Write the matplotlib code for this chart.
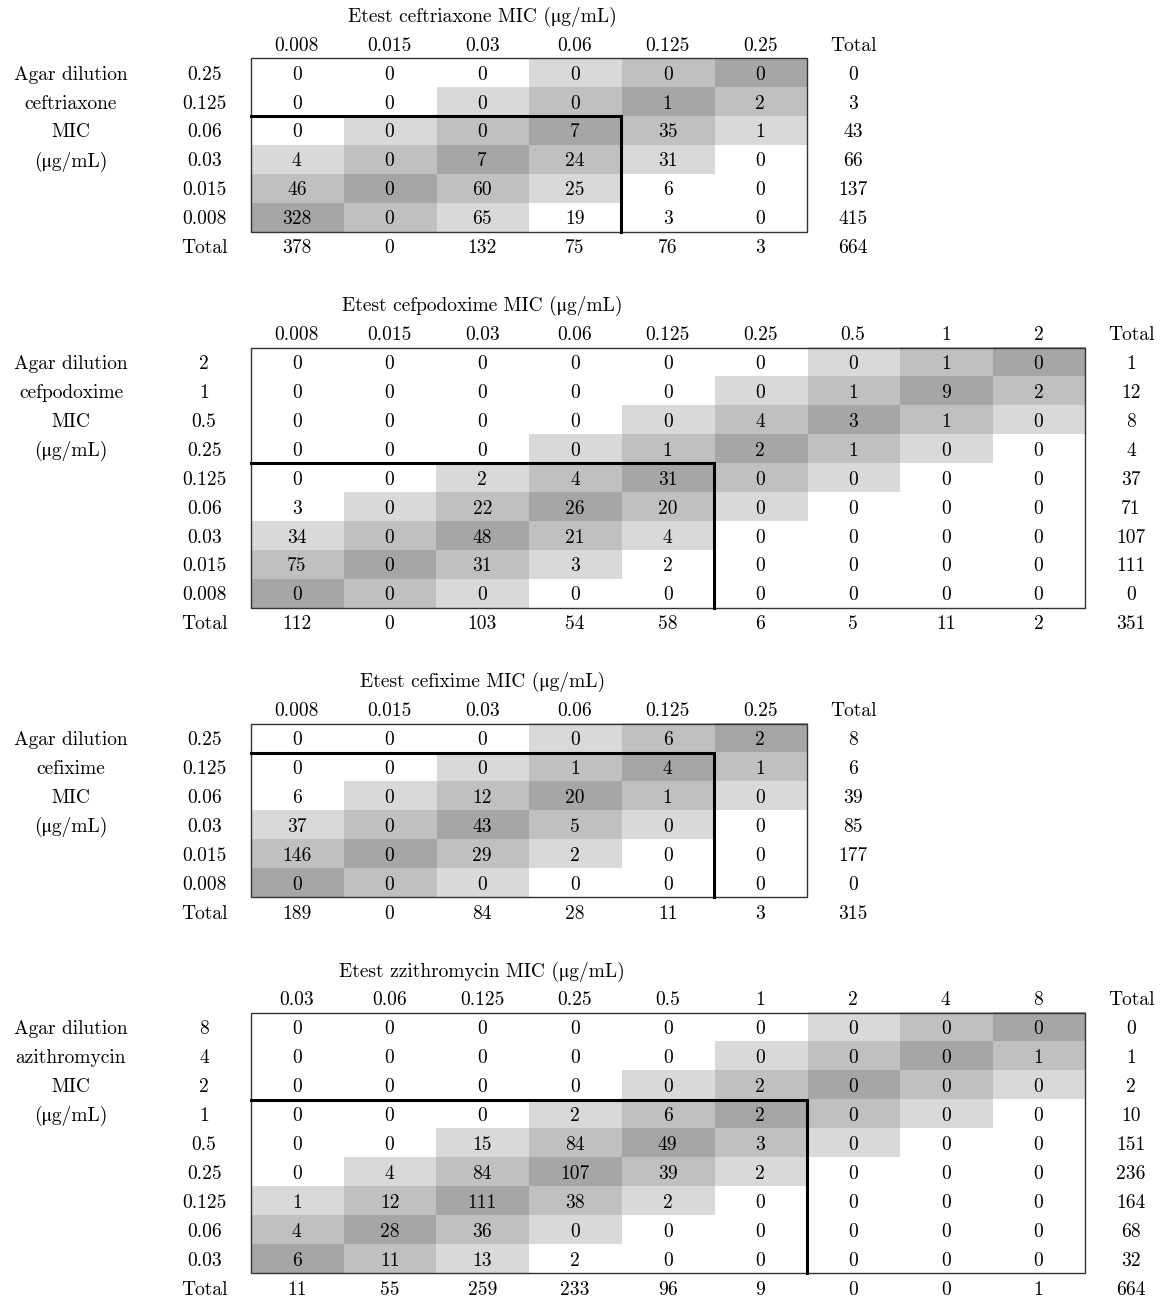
import numpy as np
import matplotlib
matplotlib.use("Agg")
import matplotlib.pyplot as plt
from matplotlib.patches import Rectangle

plt.rcParams['font.family'] = ['cmr10', 'STIXGeneral', 'DejaVu Serif']
plt.rcParams['axes.formatter.use_mathtext'] = True

# ceftriaxone
ctx_cols = ['0.008', '0.015', '0.03', '0.06', '0.125', '0.25']
ctx_rows = ['0.25', '0.125', '0.06', '0.03', '0.015', '0.008']
ctx_counts = [[0, 0, 0, 0, 0, 0],
              [0, 0, 0, 0, 1, 2],
              [0, 0, 0, 7, 35, 1],
              [4, 0, 7, 24, 31, 0],
              [46, 0, 60, 25, 6, 0],
              [328, 0, 65, 19, 3, 0]]

# cefpodoxime
cpd_cols = ['0.008', '0.015', '0.03', '0.06', '0.125', '0.25', '0.5', '1', '2']
cpd_rows = ['2', '1', '0.5', '0.25', '0.125', '0.06', '0.03', '0.015', '0.008']
cpd_counts = [[0, 0, 0, 0, 0, 0, 0, 1, 0],
              [0, 0, 0, 0, 0, 0, 1, 9, 2],
              [0, 0, 0, 0, 0, 4, 3, 1, 0],
              [0, 0, 0, 0, 1, 2, 1, 0, 0],
              [0, 0, 2, 4, 31, 0, 0, 0, 0],
              [3, 0, 22, 26, 20, 0, 0, 0, 0],
              [34, 0, 48, 21, 4, 0, 0, 0, 0],
              [75, 0, 31, 3, 2, 0, 0, 0, 0],
              [0, 0, 0, 0, 0, 0, 0, 0, 0]]

# cefixime
cfx_cols = ['0.008', '0.015', '0.03', '0.06', '0.125', '0.25']
cfx_rows = ['0.25', '0.125', '0.06', '0.03', '0.015', '0.008']
cfx_counts = [[0, 0, 0, 0, 6, 2],
              [0, 0, 0, 1, 4, 1],
              [6, 0, 12, 20, 1, 0],
              [37, 0, 43, 5, 0, 0],
              [146, 0, 29, 2, 0, 0],
              [0, 0, 0, 0, 0, 0]]

# azithromycin
azm_cols = ['0.03', '0.06', '0.125', '0.25', '0.5', '1', '2', '4', '8']
azm_rows = ['8', '4', '2', '1', '0.5', '0.25', '0.125', '0.06', '0.03']
azm_counts = [[0, 0, 0, 0, 0, 0, 0, 0, 0],
              [0, 0, 0, 0, 0, 0, 0, 0, 1],
              [0, 0, 0, 0, 0, 2, 0, 0, 0],
              [0, 0, 0, 2, 6, 2, 0, 0, 0],
              [0, 0, 15, 84, 49, 3, 0, 0, 0],
              [0, 4, 84, 107, 39, 2, 0, 0, 0],
              [1, 12, 111, 38, 2, 0, 0, 0, 0],
              [4, 28, 36, 0, 0, 0, 0, 0, 0],
              [6, 11, 13, 2, 0, 0, 0, 0, 0]]

etest_names = ['ceftriaxone', 'cefpodoxime', 'cefixime', 'zzithromycin']
agar_names = ['ceftriaxone', 'cefpodoxime', 'cefixime', 'azithromycin']
breakpoints = [0.06, 0.125, 0.125, 1.0]
all_cols = [ctx_cols, cpd_cols, cfx_cols, azm_cols]
all_rows = [ctx_rows, cpd_rows, cfx_rows, azm_rows]
all_counts = [ctx_counts, cpd_counts, cfx_counts, azm_counts]

UNIT = '(\u03bcg/mL)'  # greek mu, falls back to STIX (cmr10 has no such glyph)

# layout (pixels)
W, H = 1166, 1299
ROW_H = 28.93
Y0 = 15
COL_W = 92.7
X0 = 250.5
LEFT_X = 71
FS = 14
DY = 1.8  # nudge text down a bit, to sit like the LaTeX cells
shade = {0: 0.65, 1: 0.75, 2: 0.85}

fig = plt.figure(figsize=(W / 100, H / 100), dpi=100)
ax = fig.add_axes([0, 0, 1, 1])

def yc(line):
    return Y0 + line * ROW_H

def put(x, y, s, **kw):
    ax.text(x, y + DY, s, ha='center', va='center', fontsize=FS, zorder=3, **kw)

line = 0
for t in range(4):
    cols, rows = all_cols[t], all_rows[t]
    counts = np.array(all_counts[t])
    nr, nc = counts.shape
    bp = breakpoints[t]

    # title and header
    put(X0 + 2.5 * COL_W, yc(line), f'Etest {etest_names[t]} MIC {UNIT}')
    for j, c in enumerate(cols + ['Total']):
        put(X0 + (j + 0.5) * COL_W, yc(line + 1), c)

    top = yc(line + 2) - ROW_H / 2
    bottom = top + nr * ROW_H
    right = X0 + nc * COL_W

    # shading by distance from the diagonal
    grid = np.ones((nr, nc))
    for i, r in enumerate(rows):
        k = cols.index(r)
        for j in range(nc):
            grid[i, j] = shade.get(abs(k - j), 1.0)
    ax.imshow(grid, cmap='gray', vmin=0, vmax=1, interpolation='nearest',
              extent=(X0, right, bottom, top), aspect='auto', zorder=1)

    # cells, row labels and totals
    left_lines = ['Agar dilution', agar_names[t], 'MIC', UNIT]
    for i, r in enumerate(rows):
        y = yc(line + 2 + i)
        put(X0 - COL_W / 2, y, r)
        if i < len(left_lines):
            put(LEFT_X, y, left_lines[i])
        for j in range(nc):
            put(X0 + (j + 0.5) * COL_W, y, str(counts[i, j]))
        put(X0 + (nc + 0.5) * COL_W, y, str(counts[i].sum()))
    ytot = yc(line + 2 + nr)
    put(X0 - COL_W / 2, ytot, 'Total')
    col_tot = list(counts.sum(axis=0)) + [counts.sum()]
    for j, v in enumerate(col_tot):
        put(X0 + (j + 0.5) * COL_W, ytot, str(v))

    # outer frame
    ax.add_patch(Rectangle((X0, top), right - X0, bottom - top, fill=False,
                           edgecolor='#333333', lw=1.0, zorder=2))
    # susceptible region box
    n_in_r = sum(float(r) <= bp for r in rows)
    n_in_c = sum(float(c) <= bp for c in cols)
    box_top = bottom - n_in_r * ROW_H
    box_right = X0 + n_in_c * COL_W
    ax.plot([X0, box_right, box_right], [box_top, box_top, bottom],
            color='black', lw=2.2, solid_joinstyle='miter', zorder=2.5)

    line += nr + 4

ax.set_xlim(0, W)
ax.set_ylim(H, 0)
ax.axis('off')

plt.savefig('out.png', dpi=100)
